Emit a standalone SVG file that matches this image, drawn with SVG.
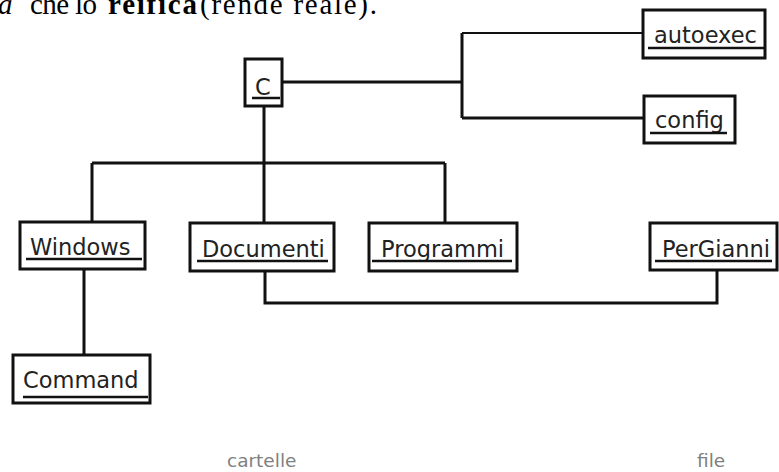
<svg xmlns="http://www.w3.org/2000/svg" width="779" height="472" viewBox="0 0 779 472">
<style>
.box{fill:#fff;stroke:#111;stroke-width:3}
.lbl{font-family:"DejaVu Sans",sans-serif;font-size:22.5px;fill:#222}
.ul{stroke:#111;stroke-width:2.5}
.conn path{fill:none;stroke:#111;stroke-width:3}
.cap{font-family:"DejaVu Sans",sans-serif;font-size:18.5px;fill:#808080}
.top{font-family:"Liberation Serif",serif;font-size:29px;fill:#000}
</style>
<rect width="779" height="472" fill="#fff"/>
<text class="top" y="14"><tspan x="-2" font-style="italic">a</tspan><tspan x="30" textLength="67">che lo</tspan><tspan x="108" font-weight="bold" textLength="89">reifica</tspan><tspan x="200" textLength="177">(rende reale).</tspan></text>
<g id="connectors" class="conn">
<path d="M282 82 H462"/>
<path d="M462 33 V118"/>
<path d="M462 33 H643" style="stroke-width:2.2"/>
<path d="M462 118 H644"/>
<path d="M264 106 V223"/>
<path d="M92 163 H445"/>
<path d="M92 163 V222"/>
<path d="M445 163 V223"/>
<path d="M265 271 V303 H717 V270"/>
<path d="M84 269 V355"/>
</g>
<g id="C"><rect class="box" x="245" y="59" width="37" height="47"/><text class="lbl" x="255" y="95">C</text><line class="ul" x1="252" y1="98" x2="280" y2="98"/></g>
<g id="autoexec"><rect class="box" x="643" y="10" width="122" height="48"/><text class="lbl" x="654" y="43">autoexec</text><line class="ul" x1="648" y1="48" x2="765" y2="48"/></g>
<g id="config"><rect class="box" x="644" y="96" width="91" height="47"/><text class="lbl" x="655" y="128">config</text><line class="ul" x1="650" y1="133" x2="727" y2="133"/></g>
<g id="Windows"><rect class="box" x="20" y="222" width="125" height="47"/><text class="lbl" x="30" y="255">Windows</text><line class="ul" x1="26" y1="259" x2="142" y2="259"/></g>
<g id="Documenti"><rect class="box" x="190" y="223" width="144" height="48"/><text class="lbl" x="202" y="257">Documenti</text><line class="ul" x1="197" y1="261" x2="328" y2="261"/></g>
<g id="Programmi"><rect class="box" x="369" y="223" width="148" height="48"/><text class="lbl" x="381" y="257">Programmi</text><line class="ul" x1="372" y1="261" x2="512" y2="261"/></g>
<g id="PerGianni"><rect class="box" x="650" y="223" width="127" height="47"/><text class="lbl" x="662" y="257">PerGianni</text><line class="ul" x1="655" y1="261" x2="772" y2="261"/></g>
<g id="Command"><rect class="box" x="13" y="355" width="137" height="48"/><text class="lbl" x="23" y="388">Command</text><line class="ul" x1="23" y1="397" x2="148" y2="397"/></g>
<text class="cap" x="227" y="467">cartelle</text>
<text class="cap" x="697" y="467">file</text>
</svg>
